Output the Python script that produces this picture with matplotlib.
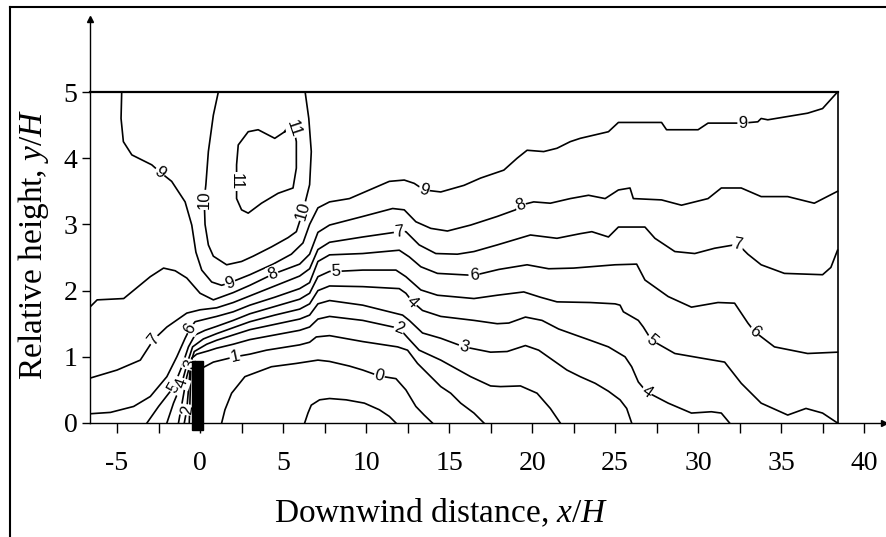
import math
import matplotlib
matplotlib.use("Agg")
import matplotlib.pyplot as plt
from matplotlib.patches import Rectangle
from matplotlib.lines import Line2D
from matplotlib.ticker import MultipleLocator

plt.rcParams['font.family'] = ['Liberation Serif', 'DejaVu Serif']
plt.rcParams['mathtext.fontset'] = 'custom'
plt.rcParams['mathtext.it'] = 'Liberation Serif:italic'
plt.rcParams['mathtext.rm'] = 'Liberation Serif'
plt.rcParams['axes.unicode_minus'] = False

# ---- contour lines of wind speed (x/H, y/H) ----
c11 = [(5.1, 4.40), (4.5, 4.30), (3.5, 4.43), (2.9, 4.40), (2.3, 4.20), (2.2, 3.90), (2.2, 3.65),
       (2.2, 3.39), (2.5, 3.22), (2.9, 3.17), (3.7, 3.32), (4.7, 3.47), (5.6, 3.55), (5.8, 3.85),
       (5.8, 4.25), (5.65, 4.45), (5.4, 4.55), (5.1, 4.40)]
c10 = [(1.1, 5.0), (0.8, 4.65), (0.5, 4.10), (0.35, 3.60), (0.25, 3.37), (0.3, 3.0), (0.5, 2.69),
       (0.8, 2.52), (1.6, 2.39), (2.5, 2.44), (3.2, 2.52), (4.3, 2.66), (5.3, 2.80), (5.8, 2.89),
       (6.2, 3.2), (6.6, 3.6), (6.7, 4.1), (6.55, 4.6), (6.33, 5.0)]
c9 = [(-4.72, 5.0), (-4.76, 4.60), (-4.62, 4.25), (-4.11, 4.05), (-2.91, 3.90), (-2.41, 3.79),
      (-1.71, 3.65), (-0.90, 3.34), (-0.50, 2.99), (-0.25, 2.58), (0.1, 2.31), (0.7, 2.13),
      (1.3, 2.08), (1.8, 2.12), (3.0, 2.24), (4.4, 2.40), (5.5, 2.55), (6.2, 2.72), (6.6, 3.0),
      (7.1, 3.25), (7.8, 3.34), (9.0, 3.39), (10.2, 3.52), (11.4, 3.65), (12.3, 3.67), (12.9, 3.62),
      (13.5, 3.52), (14.5, 3.49), (15.9, 3.59), (16.9, 3.70), (18.3, 3.82), (19.1, 4.00),
      (19.7, 4.12), (20.7, 4.10), (21.5, 4.15), (22.3, 4.25), (22.9, 4.30), (24.6, 4.40),
      (25.2, 4.54), (27.8, 4.54), (28.1, 4.43), (30.0, 4.43), (30.6, 4.53), (32.7, 4.53),
      (33.6, 4.55), (33.8, 4.60), (34.2, 4.58), (35.4, 4.63), (36.6, 4.68), (37.5, 4.75),
      (38.4, 5.0)]
c8 = [(-6.6, 1.76), (-6.2, 1.86), (-4.6, 1.88), (-3.0, 2.21), (-2.2, 2.34), (-1.5, 2.30),
      (-0.8, 2.19), (0.0, 1.96), (0.8, 1.86), (2.0, 1.97), (3.0, 2.08), (4.4, 2.25), (6.0, 2.40),
      (6.6, 2.55), (7.1, 2.88), (7.8, 2.99), (9.8, 3.12), (11.6, 3.24), (12.3, 3.22), (13.0, 3.04),
      (13.9, 2.94), (14.9, 2.90), (16.3, 2.99), (17.9, 3.12), (19.0, 3.22), (19.3, 3.29),
      (20.1, 3.34), (21.1, 3.32), (22.3, 3.39), (23.4, 3.44), (24.4, 3.39), (25.2, 3.52),
      (25.9, 3.55), (26.1, 3.39), (27.8, 3.37), (29.0, 3.29), (30.6, 3.39), (31.4, 3.55),
      (32.6, 3.55), (33.8, 3.42), (35.4, 3.42), (37.0, 3.32), (38.4, 3.50)]
c7 = [(-6.6, 0.68), (-5.0, 0.80), (-3.6, 0.95), (-2.8, 1.26), (-2.0, 1.45), (-0.8, 1.66),
      (0.0, 1.71), (1.0, 1.74), (2.0, 1.82), (3.0, 1.92), (4.5, 2.07), (6.0, 2.22), (6.6, 2.33),
      (7.1, 2.62), (7.8, 2.73), (9.8, 2.81), (12.0, 2.89), (12.4, 2.89), (13.2, 2.69), (14.2, 2.56),
      (15.5, 2.55), (16.5, 2.59), (17.9, 2.69), (19.9, 2.84), (21.5, 2.79), (22.9, 2.86),
      (23.6, 2.89), (24.6, 2.81), (25.2, 2.96), (26.8, 2.96), (27.4, 2.79), (28.6, 2.59),
      (29.8, 2.56), (31.0, 2.64), (32.4, 2.70), (33.0, 2.55), (33.8, 2.39), (35.2, 2.26),
      (37.5, 2.24), (38.0, 2.35), (38.4, 2.61)]
c6 = [(-6.6, 0.14), (-5.4, 0.16), (-4.0, 0.25), (-3.0, 0.40), (-2.0, 0.70), (-1.4, 1.0),
      (-0.9, 1.28), (-0.6, 1.43), (-0.3, 1.53), (0.5, 1.58), (1.0, 1.61), (2.0, 1.68), (3.0, 1.78),
      (4.5, 1.90), (6.0, 2.03), (6.6, 2.12), (7.1, 2.44), (7.8, 2.54), (9.8, 2.56), (12.0, 2.61),
      (12.6, 2.51), (13.3, 2.36), (14.3, 2.26), (16.5, 2.23), (18.0, 2.32), (19.7, 2.39),
      (21.0, 2.33), (22.5, 2.34), (23.5, 2.36), (25.0, 2.39), (26.3, 2.40), (26.8, 2.16),
      (28.2, 1.91), (29.6, 1.75), (31.2, 1.82), (32.2, 1.81), (33.0, 1.51), (33.4, 1.38),
      (34.6, 1.15), (36.6, 1.05), (38.4, 1.07)]
c5 = [(-3.2, 0.0), (-2.5, 0.25), (-1.6, 0.54), (-1.1, 0.85), (-0.7, 1.15), (-0.3, 1.33),
      (0.3, 1.40), (1.0, 1.46), (2.0, 1.55), (3.0, 1.65), (4.5, 1.76), (6.0, 1.87), (6.6, 1.96),
      (7.1, 2.21), (7.8, 2.29), (8.2, 2.29), (9.8, 2.31), (11.8, 2.31), (12.4, 2.21), (13.3, 2.01),
      (14.3, 1.93), (16.5, 1.88), (17.9, 1.93), (19.5, 1.98), (20.5, 1.90), (21.5, 1.83),
      (23.5, 1.82), (25.0, 1.80), (25.3, 1.78), (25.5, 1.68), (26.4, 1.55), (26.7, 1.45),
      (27.2, 1.25), (28.6, 1.05), (30.2, 0.98), (31.6, 0.92), (32.6, 0.60), (33.8, 0.30),
      (35.4, 0.12), (36.5, 0.22), (37.5, 0.15), (38.4, 0.0)]
c4 = [(-2.0, 0.0), (-1.6, 0.3), (-1.1, 0.6), (-0.75, 0.92), (-0.45, 1.15), (0.2, 1.27),
      (1.0, 1.35), (2.0, 1.44), (3.0, 1.53), (4.5, 1.63), (6.0, 1.72), (6.6, 1.80), (7.1, 2.00),
      (7.8, 2.07), (9.8, 2.06), (12.0, 2.03), (12.4, 1.96), (12.8, 1.83), (13.4, 1.70),
      (14.5, 1.61), (16.5, 1.55), (17.9, 1.50), (18.6, 1.51), (19.6, 1.60), (20.6, 1.55),
      (21.6, 1.42), (22.6, 1.33), (23.5, 1.25), (24.6, 1.15), (25.6, 1.00), (26.0, 0.85),
      (26.4, 0.62), (26.9, 0.47), (28.2, 0.30), (29.6, 0.15), (30.8, 0.17), (31.4, 0.15),
      (31.9, 0.0)]
c3 = [(-1.3, 0.0), (-1.05, 0.35), (-0.8, 0.7), (-0.6, 0.88), (-0.35, 1.08), (0.4, 1.19),
      (1.0, 1.25), (2.0, 1.33), (3.0, 1.41), (4.5, 1.49), (6.0, 1.57), (6.6, 1.63), (7.1, 1.80),
      (7.8, 1.85), (9.8, 1.78), (12.2, 1.63), (12.6, 1.55), (13.4, 1.36), (14.5, 1.28),
      (15.9, 1.15), (17.5, 1.07), (18.5, 1.08), (19.6, 1.17), (20.4, 1.10), (22.1, 0.80),
      (22.9, 0.70), (23.8, 0.60), (24.6, 0.48), (25.3, 0.35), (25.7, 0.22), (26.0, 0.0)]
c2 = [(-0.95, 0.0), (-0.8, 0.2), (-0.7, 0.5), (-0.6, 0.8), (-0.5, 0.98), (-0.2, 1.04),
      (0.5, 1.09), (1.0, 1.13), (2.0, 1.19), (3.0, 1.26), (4.5, 1.33), (6.0, 1.40), (6.6, 1.45),
      (7.1, 1.57), (7.8, 1.61), (9.8, 1.55), (12.0, 1.43), (12.5, 1.29), (13.2, 1.10),
      (14.5, 0.95), (16.3, 0.70), (17.5, 0.56), (18.1, 0.55), (19.3, 0.56), (20.3, 0.45),
      (21.1, 0.22), (21.7, 0.0)]
c1 = [(-0.65, 0.0), (-0.6, 0.4), (-0.55, 0.88), (-0.3, 0.93), (0.2, 0.84), (0.8, 0.92),
      (2.1, 1.0), (3.0, 1.04), (4.0, 1.10), (5.0, 1.14), (6.0, 1.18), (6.6, 1.22), (7.0, 1.30),
      (7.8, 1.32), (9.8, 1.23), (11.9, 1.15), (12.5, 1.10), (13.1, 0.90), (13.9, 0.70),
      (14.5, 0.55), (15.1, 0.45), (15.7, 0.30), (16.5, 0.15), (17.1, 0.0)]
c0 = [(1.3, 0.0), (1.5, 0.2), (1.9, 0.45), (2.7, 0.70), (4.3, 0.85), (5.8, 0.90), (7.1, 0.95),
      (7.8, 0.93), (9.0, 0.86), (9.8, 0.80), (10.8, 0.71), (11.8, 0.67), (12.4, 0.50),
      (13.0, 0.25), (13.5, 0.12), (14.0, 0.0)]
cm1 = [(6.3, 0.0), (6.5, 0.15), (6.7, 0.27), (7.2, 0.35), (7.8, 0.37), (8.8, 0.35), (9.9, 0.30),
       (10.8, 0.20), (11.4, 0.10), (11.8, 0.0)]

contours = {11: c11, 10: c10, 9: c9, 8: c8, 7: c7, 6: c6, 5: c5, 4: c4, 3: c3, 2: c2, 1: c1,
            0: c0, -1: cm1}
# vertex index where each inline label sits
label_idx = {11: [6, 15], 10: [4, 14], 9: [5, 13, 26, 43], 8: [11, 25], 7: [3, 16, 34],
             6: [7, 23, 37], 5: [2, 15, 32], 4: [2, 17, 32], 3: [3, 19], 2: [1, 16], 1: [6],
             0: [10]}

# barrier (x/H) and measured domain
barrier_x = (-0.5, 0.2)
barrier_top = 0.93
domain_right = 38.4
domain_top = 5.0

x_ticks = [-5, 0, 5, 10, 15, 20, 25, 30, 35, 40]
y_ticks = [0, 1, 2, 3, 4, 5]

W, H = 887, 537
fig = plt.figure(figsize=(W / 100, H / 100), dpi=100)
ax = fig.add_axes([90 / W, (H - 423) / H, (884 - 90) / W, (423 - 19) / H])
ax.set_xlim(-6.63, 41.2)
ax.set_ylim(0, (423 - 19) / 66.2)

for s in ("top", "right"):
    ax.spines[s].set_visible(False)
for s in ("left", "bottom"):
    ax.spines[s].set_linewidth(1.0)
ax.plot(1, 0, ">k", transform=ax.transAxes, clip_on=False, ms=4)
ax.plot(0, 1, "^k", transform=ax.transAxes, clip_on=False, ms=4)

ax.set_xticks(x_ticks)
ax.set_xticklabels([str(v) for v in x_ticks])
ax.xaxis.set_minor_locator(MultipleLocator(2.5))
ax.set_yticks(y_ticks)
ax.set_yticklabels([str(v) for v in y_ticks])
ax.tick_params(axis="x", which="both", direction="out", length=7, width=1, pad=13, labelsize=20)
ax.tick_params(axis="y", which="both", direction="out", length=6, width=1, pad=3, labelsize=20)

fig.text(441 / W, 1 - 513 / H, "Downwind distance, $\\mathit{x}$/$\\mathit{H}$", fontsize=24,
         ha="center", va="center")
fig.text(34 / W, 1 - 244 / H, "Relative height, $\\mathit{y}$/$\\mathit{H}$", fontsize=24,
         ha="center", va="center", rotation=90)

# measured-domain box
ax.plot([ax.get_xlim()[0], domain_right], [domain_top, domain_top], color="k", lw=1.6,
        clip_on=False, zorder=3)
ax.plot([domain_right, domain_right], [0, domain_top], color="k", lw=1.2, zorder=3)

for lev, pts in contours.items():
    xs = [p[0] for p in pts]
    ys = [p[1] for p in pts]
    ax.plot(xs, ys, color="k", lw=1.2, solid_joinstyle="round", zorder=2)

fig.canvas.draw()
for lev, idxs in label_idx.items():
    pts = contours[lev]
    for i in idxs:
        a = ax.transData.transform(pts[max(i - 1, 0)])
        b = ax.transData.transform(pts[min(i + 1, len(pts) - 1)])
        ang = math.degrees(math.atan2(b[1] - a[1], b[0] - a[0]))
        if ang > 90:
            ang -= 180
        if ang < -90:
            ang += 180
        ax.text(pts[i][0], pts[i][1], str(lev), rotation=ang, rotation_mode="anchor",
                ha="center", va="center", fontsize=12,
                family=["Liberation Sans Narrow", "Liberation Sans", "DejaVu Sans"],
                bbox=dict(boxstyle="square,pad=0.05", fc="white", ec="none"), zorder=4)

ax.add_patch(Rectangle((barrier_x[0], -0.1), barrier_x[1] - barrier_x[0], barrier_top + 0.1,
                       facecolor="k", edgecolor="k", clip_on=False, zorder=5))

# outer frame of the figure
fig.add_artist(Line2D([10 / W, 10 / W], [0, 1 - 7 / H], color="k", lw=1.5))
fig.add_artist(Line2D([10 / W, 1], [1 - 7 / H, 1 - 7 / H], color="k", lw=1.5))

fig.savefig("out.png", dpi=100)
